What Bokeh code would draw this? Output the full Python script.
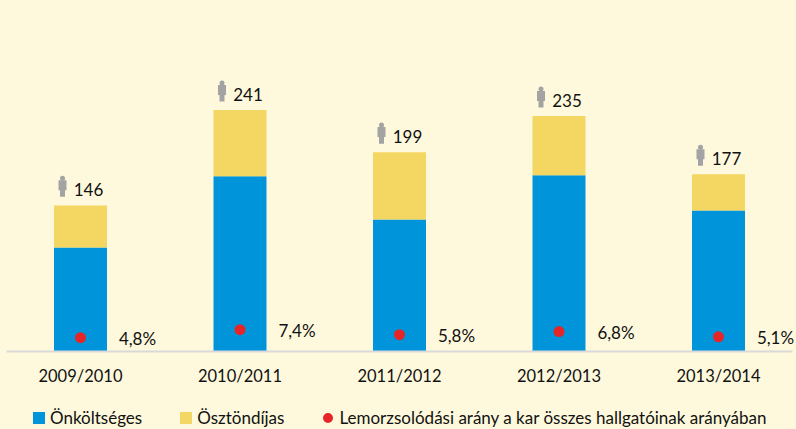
from bokeh.embed import file_html
from bokeh.resources import INLINE
from bokeh.plotting import figure
from bokeh.models import (ColumnDataSource, Range1d, FixedTicker, Legend, LegendItem)
from bokeh.transform import dodge

years = ["2009/2010", "2010/2011", "2011/2012", "2012/2013", "2013/2014"]
onkoltseges = [104, 175, 132, 176, 141]
osztondijas = [42, 66, 67, 59, 36]
totals = [146, 241, 199, 235, 177]
arany = [4.8, 7.4, 5.8, 6.8, 5.1]
series_names = ["Önköltséges", "Ösztöndíjas", "Lemorzsolódási arány a kar összes hallgatóinak arányában"]

BG = "#FEF9DC"; BLUE = "#0095DA"; YEL = "#F4D662"; RED = "#E52528"; GRAY = "#A3A3A3"; TXT = "#111111"
FONT = "Lato"

W, H = 796, 429
xs = list(range(len(years)))
src = ColumnDataSource(dict(
    x=xs, a=onkoltseges, b=osztondijas, total=totals, pct=arany,
    tlabel=[str(t) for t in totals],
    plabel=[f"{v:.1f}%".replace(".", ",") for v in arany],
))

p = figure(width=W, height=H, output_backend="svg", toolbar_location=None,
           x_range=Range1d(-80/159.5, (W-80)/159.5), y_range=Range1d(-77.2, 350.1),
           min_border_left=0, min_border_right=0, min_border_top=0, min_border_bottom=0,
           background_fill_color=BG, border_fill_color=BG, outline_line_color=None)
p.extra_y_ranges = {"pct": Range1d(-25, 114.3)}
p.grid.visible = False
p.yaxis.visible = False

ax = p.xaxis[0]
ax.fixed_location = 0
ax.ticker = FixedTicker(ticks=xs)
ax.major_label_overrides = {i: y for i, y in zip(xs, years)}
ax.bounds = (-0.464, 4.462)
ax.axis_line_color = "#D9D9D9"; ax.axis_line_width = 2
ax.major_tick_line_color = None; ax.minor_tick_line_color = None
ax.major_tick_in = 0; ax.major_tick_out = 0
ax.major_label_text_font = FONT; ax.major_label_text_font_size = "16.5px"
ax.major_label_text_color = TXT; ax.major_label_standoff = 14

bw = 53/159.5
r1 = p.vbar(x="x", bottom=0, top="a", width=bw, source=src, fill_color=BLUE, line_color=None)
r2 = p.vbar(x="x", bottom="a", top="total", width=bw, source=src, fill_color=YEL, line_color=None)
r3 = p.scatter(x="x", y="pct", size=7, marker="circle", source=src, fill_color=RED, line_color=RED, line_width=4, y_range_name="pct")

p.text(x="x", y="total", text="tlabel", source=src, x_offset=8, y_offset=-16,
       text_align="center", text_baseline="middle", text_font={"value": FONT},
       text_font_size="17px", text_color=TXT)
p.text(x="x", y="pct", text="plabel", source=src, x_offset=57, y_offset=1,
       text_align="center", text_baseline="middle", text_font={"value": FONT},
       text_font_size="17px", text_color=TXT, y_range_name="pct")

# person icon above each bar
ix = dodge("x", -18/159.5, range=p.x_range)
p.scatter(x=ix, y=dodge("total", 27, range=p.y_range), size=5, marker="circle", source=src, fill_color=GRAY, line_color=None)
p.rect(x=ix, y=dodge("total", 20, range=p.y_range), width=8, height=10, width_units="screen", height_units="screen",
       source=src, fill_color=GRAY, line_color=None)
p.rect(x=ix, y=dodge("total", 12, range=p.y_range), width=5, height=7, width_units="screen", height_units="screen",
       source=src, fill_color=GRAY, line_color=None)

leg = Legend(items=[LegendItem(label=series_names[0], renderers=[r1]),
                    LegendItem(label=series_names[1], renderers=[r2]),
                    LegendItem(label=series_names[2], renderers=[r3])],
             orientation="horizontal", location=(31, 1), background_fill_alpha=0, border_line_color=None,
             glyph_width=15, glyph_height=15, label_standoff=4, spacing=36, padding=0, margin=0,
             label_text_font=FONT, label_text_font_size="17px", label_text_color=TXT)
p.add_layout(leg, "center")

html = file_html(p, INLINE)
html = html.replace("</head>", f"<style>html,body{{margin:0;padding:0;background:{BG};overflow:hidden}}</style></head>", 1)
open("out.html", "w").write(html)
